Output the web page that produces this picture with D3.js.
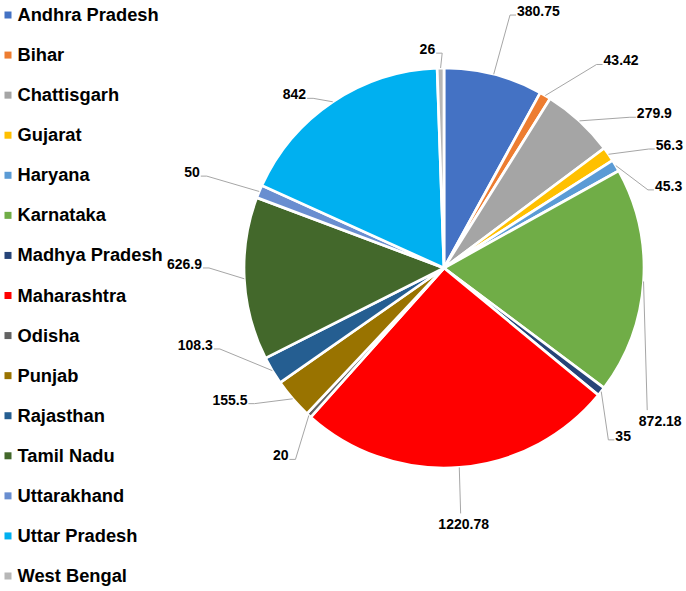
<!DOCTYPE html>
<html>
<head>
<meta charset="utf-8">
<script src="https://cdn.jsdelivr.net/npm/d3@7"></script>
<style>
    body { margin: 0; background: #fff; }
    text { font-family: "Liberation Sans", Arial, sans-serif; font-weight: bold; fill: #000; }
    .slice { stroke: #fff; stroke-width: 2.7; }
    .leader { fill: none; stroke: #a6a6a6; stroke-width: 1; }
</style>
</head>
<body>
<script>
(function(){

    //chart data
    var states = ["Andhra Pradesh", "Bihar", "Chattisgarh", "Gujarat", "Haryana",
                  "Karnataka", "Madhya Pradesh", "Maharashtra", "Odisha", "Punjab",
                  "Rajasthan", "Tamil Nadu", "Uttarakhand", "Uttar Pradesh", "West Bengal"];
    var values = [380.75, 43.42, 279.9, 56.3, 45.3,
                  872.18, 35, 1220.78, 20, 155.5,
                  108.3, 626.9, 50, 842, 26];
    var colors = ["#4472C4", "#ED7D31", "#A5A5A5", "#FFC000", "#5B9BD5",
                  "#70AD47", "#264478", "#FF0000", "#636363", "#997300",
                  "#255E91", "#43682B", "#698ED0", "#00B0F0", "#B7B7B7"];

    //label placement like excel best fit: [angle shift (deg), radius factor, side, text shift]
    var labelNudge = [[1.5, 1.315, "r"], [7.5, 1.29, "r"], [9.2, 1.22, "r"], [5.2, 1.21, "r"], [10.4, 1.12, "r"],
                      [31.1, 1.24, "b", 13], [7.1, 1.21, "r"], [0.5, 1.23, "b", 3], [-3.6, 1.23, "l"], [6.1, 1.19, "l"],
                      [11.5, 1.22, "l"], [3.1, 1.205, "l"], [-1.8, 1.30, "l"], [-5.1, 1.09, "l"], [-1.1, 1.075, "l"]];

    var width = 686, height = 591;
    var cx = 444, cy = 268, radius = 200;

    var svg = d3.select("body")
        .append("svg")
        .attr("width", width)
        .attr("height", height);

    var pie = d3.pie()
        .sort(null)
        .value(function(d){ return d; });

    var arc = d3.arc()
        .innerRadius(0)
        .outerRadius(radius);

    var arcs = pie(values);

    var g = svg.append("g")
        .attr("transform", "translate(" + cx + "," + cy + ")");

    //slices
    g.selectAll(".slice")
        .data(arcs)
        .enter()
        .append("path")
        .attr("class", "slice")
        .attr("d", arc)
        .style("fill", function(d, i){ return colors[i]; });

    function polar(a, r){
        return [r * Math.sin(a), -r * Math.cos(a)];
    };

    //leader lines + value labels
    arcs.forEach(function(d, i){
        var mid = (d.startAngle + d.endAngle) / 2;
        var nudge = labelNudge[i];
        var start = polar(mid, radius);
        var anchor = polar(mid + nudge[0] * Math.PI / 180, radius * nudge[1]);
        var pts, tx, ty, ta;
        if (nudge[2] == "r"){
            pts = [start, [anchor[0] - 6, anchor[1]], anchor];
            tx = anchor[0] + 1; ty = anchor[1] + 1; ta = "start";
        } else if (nudge[2] == "l"){
            pts = [start, [anchor[0] + 6, anchor[1]], anchor];
            tx = anchor[0] - 1; ty = anchor[1] + 1; ta = "end";
        } else {
            pts = [start, anchor];
            tx = anchor[0] + nudge[3]; ty = anchor[1] + 15.5; ta = "middle";
        };
        g.append("path")
            .attr("class", "leader")
            .attr("d", d3.line()(pts));
        g.append("text")
            .attr("x", tx)
            .attr("y", ty)
            .attr("text-anchor", ta)
            .style("font-size", "14px")
            .text(String(values[i]));
    });

    //legend
    var legendY = d3.scalePoint()
        .domain(states)
        .range([15, 576]);

    var legend = svg.selectAll(".legend")
        .data(states)
        .enter()
        .append("g")
        .attr("class", "legend")
        .attr("transform", function(d){ return "translate(0," + legendY(d) + ")"; });

    legend.append("rect")
        .attr("x", 4.5)
        .attr("y", -3.5)
        .attr("width", 7)
        .attr("height", 7)
        .style("fill", function(d, i){ return colors[i]; });

    legend.append("text")
        .attr("x", 17.5)
        .attr("y", 6)
        .style("font-size", "18.3px")
        .text(function(d){ return d; });

})();
</script>
</body>
</html>
